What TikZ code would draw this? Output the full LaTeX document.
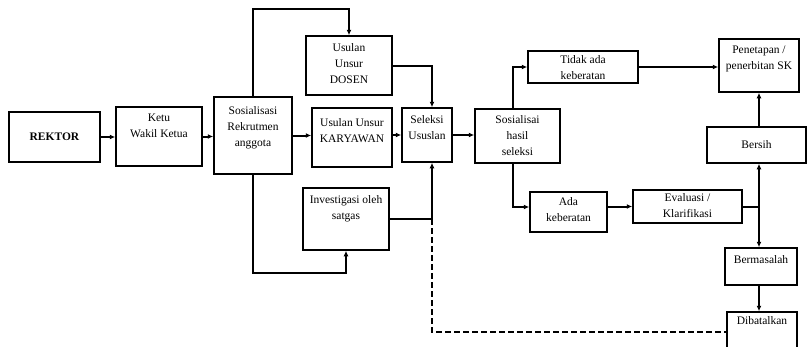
\documentclass[tikz,border=0pt]{standalone}
\usepackage{fontspec}
\setmainfont{Liberation Serif}
\usepackage{tikz}
\usetikzlibrary{arrows.meta}

\begin{document}
\begin{tikzpicture}[x=1pt,y=-1pt,
  box/.style={draw,line width=1.5pt,inner sep=0pt},
  txt/.style={align=center,inner sep=0pt,font=\fontsize{11.5}{16}\selectfont},
  ln/.style={line width=2pt},
  arr/.style={line width=2pt,-{Latex[length=5.5pt,width=5pt]}}]
\useasboundingbox(0,0)rectangle(808,346);
% kotak
\node[box,minimum width=91,minimum height=50](rektor)at(54.5,137){};\node[txt](rektor-t)at(54.5,137){\textbf{REKTOR}};
\node[box,minimum width=86,minimum height=59](ketu)at(159,136.5){};\node[txt](ketu-t)at(159,126){Ketu\\Wakil Ketua};
\node[box,minimum width=78,minimum height=77](sos)at(253,135.5){};\node[txt](sos-t)at(253,127.5){Sosialisasi\\Rekrutmen\\anggota};
\node[box,minimum width=86,minimum height=59](dosen)at(349,65.5){};\node[txt](dosen-t)at(349,64){Usulan\\Unsur\\DOSEN};
\node[box,minimum width=80,minimum height=59](karyawan)at(352,137.5){};\node[txt](karyawan-t)at(352,131){Usulan Unsur\\KARYAWAN};
\node[box,minimum width=86,minimum height=62](inv)at(346,219){};\node[txt](inv-t)at(346,209){Investigasi oleh\\satgas};
\node[box,minimum width=50,minimum height=54](sel)at(427,135){};\node[txt](sel-t)at(427,128){Seleksi\\Ususlan};
\node[box,minimum width=85,minimum height=54](hasil)at(517.5,136){};\node[txt](hasil-t)at(517.5,135.5){Sosialisai\\hasil\\seleksi};
\node[box,minimum width=110,minimum height=32](tidak)at(583,67){};\node[txt](tidak-t)at(583,67.5){Tidak ada\\keberatan};
\node[box,minimum width=80,minimum height=53](penetapan)at(759,65.5){};\node[txt](penetapan-t)at(759,58.5){Penetapan /\\penerbitan SK};
\node[box,minimum width=99,minimum height=36](bersih)at(756.5,145){};\node[txt](bersih-t)at(756.5,145){Bersih};
\node[box,minimum width=77,minimum height=40](ada)at(568.5,212){};\node[txt](ada-t)at(568.5,210){Ada\\keberatan};
\node[box,minimum width=109,minimum height=33](eval)at(687.5,206.5){};\node[txt](eval-t)at(687.5,206){Evaluasi /\\Klarifikasi};
\node[box,minimum width=72,minimum height=37](bermasalah)at(761,266.5){};\node[txt](bermasalah-t)at(761,260){Bermasalah};
\node[box,minimum width=70,minimum height=48](dibatalkan)at(762,336){};\node[txt](dibatalkan-t)at(762,321){Dibatalkan};
% alur
\draw[arr](rektor)--(rektor-|ketu.west);
\draw[arr](ketu.east)--(ketu.east-|sos.west);
\draw[arr](sos.north)--++(0,-87)-|(dosen.north);
\draw[arr](sos.south)--++(0,98)-|(inv.south);
\draw[arr](sos.east)--(sos.east-|karyawan.west);
\draw[arr](dosen.east)-|([xshift=5pt]sel.north);
\draw[arr](sel.west-|karyawan.east)--(sel.west);
\coordinate(m)at([xshift=5pt]sel.south|-inv.east);
\draw[arr](inv.east)--(m)--([xshift=5pt]sel.south);
\draw[ln,dashed,dash pattern=on 6pt off 3pt](m)|-([yshift=4pt]dibatalkan.west);
\draw[arr](sel.east)--(sel.east-|hasil.west);
\draw[arr]([xshift=-4.5pt]hasil.north)|-(tidak.west);
\draw[arr]([xshift=-4.5pt]hasil.south)|-([yshift=5pt]ada.west);
\draw[arr](eval.west-|ada.east)--(eval.west);
\draw[arr](tidak.east)--(tidak.east-|penetapan.west);
\coordinate(j)at(eval.east-|penetapan.south);
\draw[ln](eval.east)--(j);
\draw[arr](j)--(j|-bersih.south);
\draw[arr](j)--(j|-bermasalah.north);
\draw[arr](j|-bersih.north)--(j|-penetapan.south);
\draw[arr](j|-bermasalah.south)--(j|-dibatalkan.north);
\end{tikzpicture}
\end{document}
